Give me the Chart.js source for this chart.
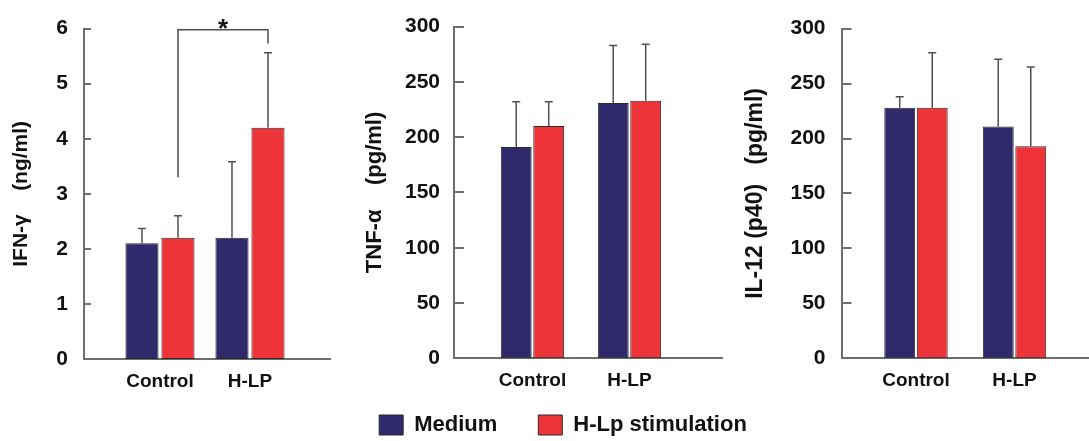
<!DOCTYPE html>
<html><head><meta charset="utf-8">
<script src="https://cdn.jsdelivr.net/npm/chart.js@4"></script>
<style>
html,body{margin:0;padding:0;background:#fff;}
#wrap{position:relative;width:1089px;height:441px;overflow:hidden;background:#fff;}
.c{position:absolute;}
</style></head><body>
<div id="wrap">
<div class="c" style="left:0px;top:0;width:345px;height:400px"><canvas id="c1"></canvas></div>
<div class="c" style="left:338px;top:0;width:387px;height:400px"><canvas id="c2"></canvas></div>
<div class="c" style="left:735px;top:0;width:354px;height:400px"><canvas id="c3"></canvas></div>
<div class="c" style="left:313px;top:373px;width:500px;height:68px"><canvas id="c4"></canvas></div>
</div>
<script>
// ---- data ----
const categories = ['Control', 'H-LP'];
const seriesNames = ['Medium', 'H-Lp stimulation'];

const ifnMedium    = [2.1, 2.2];
const ifnMediumErr = [0.27, 1.38];
const ifnStim      = [2.2, 4.2];
const ifnStimErr   = [0.4, 1.36];

const tnfMedium    = [191, 231];
const tnfMediumErr = [41, 52];
const tnfStim      = [210, 233];
const tnfStimErr   = [22, 51];

const il12Medium    = [228, 211];
const il12MediumErr = [10, 61];
const il12Stim      = [228, 193];
const il12StimErr   = [50, 72];

const ifnTicks = [0, 1, 2, 3, 4, 5, 6];
const pgTicks  = [0, 50, 100, 150, 200, 250, 300];

const sigBracket = { dataset: 1, from: 0, to: 1, fromLow: 3.3, toLow: 5.73, top: 5.98, label: '*' };

// ---- styles ----
const FONT = "'Liberation Sans', Arial, Helvetica, sans-serif";
const NAVY = '#302a6c';
const RED = '#ee3438';
const AXIS = '#6e6e6e';
const TEXT = '#111111';

const errorBars = {
  id: 'errorBars',
  afterDatasetsDraw(chart) {
    const ctx = chart.ctx, ys = chart.scales.y;
    ctx.save();
    ctx.strokeStyle = '#505050';
    ctx.lineWidth = 1.5;
    chart.data.datasets.forEach((ds, di) => {
      const meta = chart.getDatasetMeta(di);
      meta.data.forEach((bar, i) => {
        const top = ys.getPixelForValue(ds.data[i].y + ds.err[i]);
        ctx.beginPath();
        ctx.moveTo(bar.x, bar.y);
        ctx.lineTo(bar.x, top);
        ctx.moveTo(bar.x - 4, top);
        ctx.lineTo(bar.x + 4, top);
        ctx.stroke();
      });
    });
    ctx.restore();
  }
};

const tickMarks = {
  id: 'tickMarks',
  afterDraw(chart, args, opts) {
    const ctx = chart.ctx, ys = chart.scales.y, x0 = chart.chartArea.left;
    ctx.save();
    ctx.strokeStyle = AXIS;
    ctx.lineWidth = 2;
    ys.ticks.forEach(t => {
      if (t.value === ys.min) return;
      const py = Math.round(ys.getPixelForValue(t.value));
      ctx.beginPath();
      ctx.moveTo(x0, py);
      ctx.lineTo(x0 + opts.len, py);
      ctx.stroke();
    });
    ctx.restore();
  }
};

const bracketPlugin = {
  id: 'bracket',
  afterDatasetsDraw(chart) {
    const b = sigBracket;
    const meta = chart.getDatasetMeta(b.dataset);
    const a = meta.data[b.from], c = meta.data[b.to];
    const ys = chart.scales.y;
    const yTop = ys.getPixelForValue(b.top);
    const ctx = chart.ctx;
    ctx.save();
    ctx.strokeStyle = '#505050';
    ctx.lineWidth = 1.5;
    ctx.beginPath();
    ctx.moveTo(a.x, ys.getPixelForValue(b.fromLow));
    ctx.lineTo(a.x, yTop);
    ctx.lineTo(c.x, yTop);
    ctx.lineTo(c.x, ys.getPixelForValue(b.toLow));
    ctx.stroke();
    ctx.fillStyle = TEXT;
    ctx.font = 'bold 26px ' + FONT;
    ctx.textAlign = 'center';
    ctx.textBaseline = 'alphabetic';
    ctx.fillText(b.label, (a.x + c.x) / 2, yTop + 7);
    ctx.restore();
  }
};

function seriesStyle(i) {
  return { backgroundColor: i === 0 ? NAVY : RED, borderColor: '#2a2a2a', borderWidth: 1 };
}

function makeChart(id, o) {
  const mk = (si, vals, errs) => Object.assign({
    label: seriesNames[si],
    data: vals.map((v, i) => ({ x: i, y: v })),
    err: errs,
    borderSkipped: false,
    categoryPercentage: o.cp,
    barPercentage: o.bp
  }, seriesStyle(si));
  const scales = {
    x: {
      type: 'linear', min: o.xmin, max: o.xmax, offset: false,
      grid: { display: false, drawTicks: false },
      border: { display: true, color: AXIS, width: 2 },
      afterBuildTicks: s => { s.ticks = categories.map((_, i) => ({ value: i })); },
      afterFit: s => { s.height = o.xh; },
      ticks: {
        autoSkip: false, maxRotation: 0, minRotation: 0, padding: 11, color: TEXT,
        font: { family: FONT, size: 19, weight: 'bold' },
        callback: v => categories[v] !== undefined ? categories[v] : ''
      }
    },
    y: {
      type: 'linear', min: o.ticks[0], max: o.ticks[o.ticks.length - 1],
      grid: { display: false, drawTicks: false },
      border: { display: true, color: AXIS, width: 2 },
      afterBuildTicks: s => { s.ticks = o.ticks.map(v => ({ value: v })); },
      afterFit: s => { s.width = o.yw; },
      ticks: { padding: o.ypad, color: TEXT, font: { family: FONT, size: 21, weight: 'bold' } },
      title: {
        display: true, text: o.title, color: TEXT,
        font: { family: FONT, size: o.tsize, weight: 'bold' },
        padding: { top: o.tpad, bottom: 0 }
      }
    }
  };
  const plugins = [errorBars, tickMarks];
  if (o.bracket) plugins.push(bracketPlugin);
  return new Chart(document.getElementById(id), {
    type: 'bar',
    data: { datasets: [mk(0, o.med, o.medErr), mk(1, o.stim, o.stimErr)] },
    options: {
      responsive: true, maintainAspectRatio: false, animation: false, devicePixelRatio: 1,
      layout: { padding: { top: o.padTop, right: o.padRight, bottom: 0, left: 0 } },
      scales,
      plugins: {
        tooltip: { enabled: false },
        tickMarks: { len: o.tickLen },
        legend: { display: false }
      }
    },
    plugins
  });
}

makeChart('c1', {
  med: ifnMedium, medErr: ifnMediumErr, stim: ifnStim, stimErr: ifnStimErr,
  ticks: ifnTicks, title: 'IFN-\u03b3    (ng/ml)', tsize: 21, tpad: 9,
  xmin: -0.844, xmax: 1.889, cp: 0.8, bp: 0.92,
  yw: 84, ypad: 16, xh: 41, padTop: 24, padRight: 15, tickLen: 7, bracket: true
});

makeChart('c2', {
  med: tnfMedium, medErr: tnfMediumErr, stim: tnfStim, stimErr: tnfStimErr,
  ticks: pgTicks, title: 'TNF-\u03b1    (pg/ml)', tsize: 22, tpad: 24,
  xmin: -0.809, xmax: 1.954, cp: 0.67, bp: 0.95,
  yw: 116, ypad: 14, xh: 41.7, padTop: 23, padRight: 3, tickLen: 10
});

makeChart('c3', {
  med: il12Medium, medErr: il12MediumErr, stim: il12Stim, stimErr: il12StimErr,
  ticks: pgTicks, title: 'IL-12 (p40)   (pg/ml)', tsize: 23, tpad: 7,
  xmin: -0.756, xmax: 1.756, cp: 0.66, bp: 0.95,
  yw: 106.5, ypad: 16, xh: 41.7, padTop: 24, padRight: 0, tickLen: 10
});

// shared legend
new Chart(document.getElementById('c4'), {
  type: 'bar',
  data: { labels: [], datasets: seriesNames.map((n, i) => Object.assign({ label: n, data: [] }, seriesStyle(i))) },
  options: {
    responsive: true, maintainAspectRatio: false, animation: false, devicePixelRatio: 1,
    layout: { padding: 0 },
    scales: { x: { display: false }, y: { display: false } },
    plugins: {
      tooltip: { enabled: false },
      legend: {
        display: true, position: 'top', maxHeight: 68,
        labels: { boxWidth: 24, boxHeight: 20, padding: 41, color: TEXT, font: { family: FONT, size: 22, weight: 'bold' } }
      }
    }
  }
});
</script>
</body></html>
